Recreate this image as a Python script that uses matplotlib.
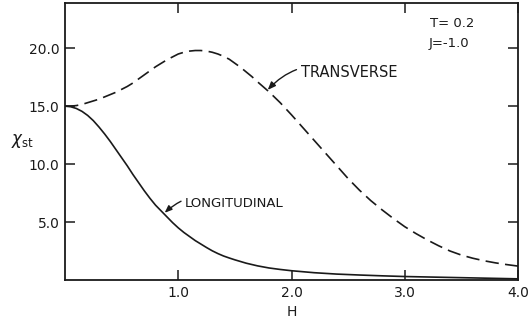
import matplotlib

matplotlib.use("Agg")
import matplotlib.pyplot as plt

# static susceptibility vs field, T = 0.2, J = -1.0
h_trans = [0.0, 0.05, 0.1, 0.15, 0.2, 0.25, 0.3, 0.35, 0.4, 0.45, 0.5, 0.55,
           0.6, 0.65, 0.7, 0.75, 0.8, 0.85, 0.9, 0.95, 1.0, 1.05, 1.1, 1.15,
           1.2, 1.25, 1.3, 1.35, 1.4, 1.45, 1.5, 1.55, 1.6, 1.65, 1.7, 1.8,
           1.9, 2.0, 2.1, 2.2, 2.3, 2.4, 2.5, 2.6, 2.7, 2.8, 2.9, 3.0, 3.1,
           3.2, 3.3, 3.4, 3.5, 3.6, 3.7, 3.8, 3.9, 4.0]
chi_trans = [15.0, 15.0, 15.05, 15.15, 15.3, 15.45, 15.6, 15.8, 16.0, 16.2,
             16.45, 16.7, 17.0, 17.35, 17.7, 18.05, 18.4, 18.7, 19.0, 19.25,
             19.5, 19.65, 19.75, 19.8, 19.8, 19.75, 19.65, 19.5, 19.3, 19.05,
             18.7, 18.35, 17.95, 17.55, 17.1, 16.25, 15.3, 14.25, 13.15,
             12.05, 10.95, 9.85, 8.75, 7.75, 6.85, 6.05, 5.3, 4.6, 4.0, 3.45,
             2.95, 2.5, 2.15, 1.88, 1.66, 1.48, 1.33, 1.2]

h_long = [0.0, 0.05, 0.1, 0.15, 0.2, 0.25, 0.3, 0.35, 0.4, 0.45, 0.5, 0.55,
          0.6, 0.65, 0.7, 0.75, 0.8, 0.85, 0.9, 0.95, 1.0, 1.05, 1.1, 1.15,
          1.2, 1.25, 1.3, 1.35, 1.4, 1.45, 1.5, 1.6, 1.7, 1.8, 1.9, 2.0, 2.2,
          2.4, 2.6, 2.8, 3.0, 3.25, 3.5, 3.75, 4.0]
chi_long = [15.0, 14.95, 14.8, 14.55, 14.2, 13.75, 13.2, 12.6, 11.95, 11.25,
            10.55, 9.85, 9.1, 8.4, 7.7, 7.05, 6.45, 5.95, 5.45, 4.95, 4.5,
            4.1, 3.75, 3.4, 3.1, 2.8, 2.52, 2.28, 2.07, 1.9, 1.74, 1.45, 1.22,
            1.04, 0.91, 0.8, 0.63, 0.51, 0.43, 0.36, 0.3, 0.25, 0.2, 0.15, 0.1]

x_ticks = [1.0, 2.0, 3.0, 4.0]
y_ticks = [5.0, 10.0, 15.0, 20.0]

ink = "#1a1a1a"
plt.rcParams["font.family"] = ["DejaVu Sans"]

fig = plt.figure(figsize=(5.29, 3.24), dpi=100)
ax = fig.add_axes([65 / 529, 1 - 280 / 324, 453 / 529, 277 / 324])

ax.plot(h_trans, chi_trans, color=ink, lw=1.2, linestyle=(0, (8, 3.8)),
        dash_joinstyle="round")
ax.plot(h_long, chi_long, color=ink, lw=1.2, solid_joinstyle="round")

ax.set_xlim(0, 4.0)
ax.set_ylim(0, 23.9)
ax.set_xticks(x_ticks)
ax.set_xticklabels([f"{v:.1f}" for v in x_ticks])
ax.set_yticks(y_ticks)
ax.set_yticklabels([f"{v:.1f}" for v in y_ticks])
ax.tick_params(direction="in", length=7.5, width=1.1, color=ink,
               top=True, right=True, labelsize=10, labelcolor=ink, pad=4)
for s in ax.spines.values():
    s.set_linewidth(1.3)
    s.set_color(ink)

ax.set_xlabel("H", fontsize=10, color=ink, labelpad=4)
ax.set_ylabel(r"$\chi_{\rm st}$", fontsize=12, color=ink, rotation=0,
              ha="center", va="center")
ax.yaxis.set_label_coords(-0.093, 0.5)

# curve labels with curved leaders
ax.annotate("TRANSVERSE", xy=(1.79, 16.4), xytext=(2.08, 17.9),
            fontsize=10.5, color=ink, ha="left", va="center",
            arrowprops=dict(arrowstyle="-|>,head_length=0.45,head_width=0.18",
                            color=ink, lw=1.0, shrinkA=1, shrinkB=0,
                            connectionstyle="arc3,rad=0.35"))
ax.annotate("LONGITUDINAL", xy=(0.88, 5.8), xytext=(1.06, 6.6),
            fontsize=9.5, color=ink, ha="left", va="center",
            arrowprops=dict(arrowstyle="-|>,head_length=0.45,head_width=0.18",
                            color=ink, lw=1.0, shrinkA=1, shrinkB=0,
                            connectionstyle="arc3,rad=0.35"))

ax.text(3.22, 22.1, "T= 0.2", fontsize=9.5, color=ink, ha="left", va="center")
ax.text(3.21, 20.4, "J=-1.0", fontsize=9.5, color=ink, ha="left", va="center")

fig.savefig("out.png", dpi=100)
